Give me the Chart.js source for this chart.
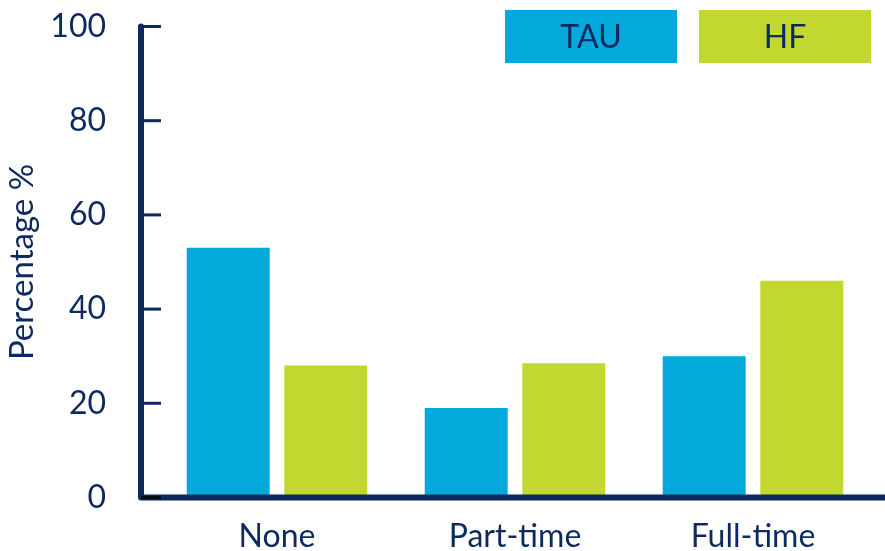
<!DOCTYPE html>
<html>
<head>
<meta charset="utf-8">
<title>Employment status</title>
<script src="https://cdn.jsdelivr.net/npm/chart.js@4"></script>
<style>
  html, body { margin: 0; padding: 0; background: #fff; }
  canvas { display: block; }
</style>
</head>
<body>
<canvas id="chart" width="885" height="551"></canvas>
<script>
const CATEGORIES = ['None', 'Part-time', 'Full-time'];
const SERIES_NAMES = ['TAU', 'HF'];
const TAU_VALUES = [53, 19, 30];
const HF_VALUES = [28, 28.5, 46];
const Y_TICKS = [0, 20, 40, 60, 80, 100];

const NAVY = '#0c2a5f';
const COLORS = ['#04a9db', '#c2d72f'];
const FONT = 'Lato, "Open Sans", sans-serif';

// axis lines and inward tick marks, drawn over the bars
const axisLines = {
    id: 'axisLines',
    afterDatasetsDraw(chart) {
        const { ctx, scales: { y } } = chart;
        const axisX = 141;
        const y0 = y.getPixelForValue(0);
        const yTop = y.getPixelForValue(100);

        ctx.save();
        ctx.strokeStyle = NAVY;
        ctx.lineWidth = 6;
        ctx.lineCap = 'round';
        ctx.lineJoin = 'round';
        ctx.beginPath();
        ctx.moveTo(axisX, yTop);
        ctx.lineTo(axisX, y0);
        ctx.lineTo(885, y0);
        ctx.stroke();

        ctx.lineWidth = 3;
        ctx.lineCap = 'butt';
        Y_TICKS.forEach(v => {
            const py = y.getPixelForValue(v);
            ctx.strokeStyle = v === 0 ? '#0a0a14' : NAVY;
            ctx.beginPath();
            ctx.moveTo(axisX, py);
            ctx.lineTo(axisX + 20, py);
            ctx.stroke();
        });
        ctx.restore();
    }
};

// legend as two filled boxes with the series name centred inside
const boxLegend = {
    id: 'boxLegend',
    afterDraw(chart) {
        const ctx = chart.ctx;
        const boxes = [{ x: 505, w: 172 }, { x: 699, w: 172 }];
        ctx.save();
        ctx.font = '32px ' + FONT;
        ctx.textAlign = 'center';
        ctx.textBaseline = 'middle';
        chart.data.datasets.forEach((ds, i) => {
            const b = boxes[i];
            ctx.fillStyle = ds.backgroundColor;
            ctx.fillRect(b.x, 10, b.w, 53);
            ctx.fillStyle = NAVY;
            ctx.fillText(ds.label, b.x + b.w / 2, 38);
        });
        ctx.restore();
    }
};

new Chart(document.getElementById('chart'), {
    type: 'bar',
    data: {
        labels: CATEGORIES,
        datasets: [
            { label: SERIES_NAMES[0], data: TAU_VALUES, backgroundColor: COLORS[0] },
            { label: SERIES_NAMES[1], data: HF_VALUES, backgroundColor: COLORS[1] }
        ]
    },
    options: {
        responsive: false,
        animation: false,
        categoryPercentage: 0.82,
        barPercentage: 0.85,
        layout: { padding: { top: 26.5, right: 13, left: 0, bottom: 0 } },
        plugins: {
            legend: { display: false },
            tooltip: { enabled: false }
        },
        scales: {
            x: {
                grid: { display: false, drawTicks: false },
                border: { display: false },
                ticks: {
                    color: NAVY,
                    font: { family: FONT, size: 32 },
                    padding: 20
                },
                afterFit: s => { s.height = 53.5; }
            },
            y: {
                min: 0,
                max: 100,
                // invisible tick marks just push the labels left of the axis
                grid: {
                    display: true,
                    drawOnChartArea: false,
                    drawTicks: true,
                    tickLength: 52,
                    color: 'rgba(0,0,0,0)'
                },
                border: { display: false },
                ticks: {
                    stepSize: 20,
                    color: NAVY,
                    font: { family: FONT, size: 32 },
                    padding: 0
                },
                title: {
                    display: true,
                    text: 'Percentage %',
                    color: NAVY,
                    font: { family: FONT, size: 33 },
                    padding: { top: 3, bottom: 0 }
                },
                afterFit: s => { s.width = 158; }
            }
        }
    },
    plugins: [axisLines, boxLegend]
});
</script>
</body>
</html>
